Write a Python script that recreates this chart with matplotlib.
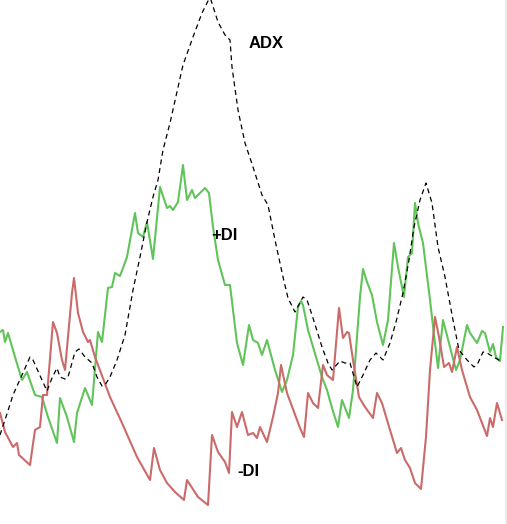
import matplotlib

matplotlib.use("Agg")
import matplotlib.pyplot as plt

# +DI (green): x position, value (screen rows, top = 0)
plus_di_x = [0, 3, 5, 8, 15, 22, 27, 35, 42, 48, 57, 60, 67, 74, 77, 85, 92, 98, 102, 108,
             112, 115, 120, 127, 135, 138, 143, 147, 153, 160, 167, 170, 173, 178, 183, 187,
             192, 195, 205, 209, 213, 218, 225, 230, 237, 243, 249, 253, 258, 262, 267, 275,
             282, 287, 293, 298, 301, 303, 308, 322, 327, 332, 338, 342, 349, 353, 360, 363,
             367, 372, 377, 383, 388, 394, 398, 404, 408, 412, 415, 418, 423, 430, 435, 438,
             443, 450, 456, 460, 467, 470, 477, 482, 485, 490, 493, 496, 500, 503]
plus_di_y = [332, 330, 342, 333, 357, 380, 372, 395, 397, 417, 443, 398, 417, 442, 413, 388,
             405, 332, 342, 288, 287, 273, 276, 257, 213, 233, 237, 222, 259, 187, 208, 206,
             210, 202, 165, 200, 190, 198, 188, 193, 227, 260, 285, 285, 343, 365, 325, 340,
             343, 355, 340, 370, 392, 380, 355, 307, 301, 305, 330, 377, 390, 408, 427, 400,
             418, 390, 297, 269, 282, 295, 322, 345, 320, 243, 267, 297, 257, 253, 203, 223,
             243, 300, 343, 368, 320, 347, 370, 360, 325, 333, 343, 331, 333, 352, 344, 357,
             361, 327]

# -DI (red)
minus_di_x = [0, 5, 13, 17, 19, 30, 35, 40, 43, 47, 53, 57, 62, 65, 72, 74, 78, 83, 88, 90,
              95, 110, 122, 137, 150, 154, 160, 167, 175, 184, 187, 198, 208, 212, 218, 225,
              229, 232, 237, 242, 248, 253, 257, 260, 267, 273, 278, 281, 287, 300, 304, 308,
              313, 318, 323, 327, 333, 339, 343, 347, 349, 353, 359, 365, 373, 377, 382, 390,
              397, 401, 405, 410, 415, 421, 426, 430, 435, 439, 444, 449, 452, 457, 462, 470,
              477, 482, 487, 490, 493, 497, 502]
minus_di_y = [413, 432, 447, 443, 455, 465, 430, 427, 395, 395, 322, 333, 360, 370, 293, 278,
              313, 332, 342, 340, 357, 397, 423, 457, 480, 448, 470, 483, 492, 500, 480, 497,
              505, 435, 452, 462, 473, 412, 427, 412, 435, 433, 438, 427, 442, 417, 393, 365,
              393, 428, 437, 393, 403, 408, 365, 375, 380, 308, 338, 332, 333, 360, 397, 407,
              418, 393, 403, 430, 453, 448, 460, 468, 483, 489, 437, 370, 317, 337, 367, 363,
              372, 347, 370, 397, 410, 423, 436, 418, 427, 403, 420]

# ADX (black dashed)
adx_x = [0, 5, 13, 22, 30, 33, 42, 47, 52, 57, 60, 65, 68, 75, 79, 85, 92, 97, 102, 105, 110,
         117, 125, 133, 140, 147, 153, 158, 163, 170, 183, 193, 202, 210, 218, 225, 230, 232,
         238, 245, 253, 262, 268, 275, 283, 288, 295, 303, 307, 313, 322, 328, 332, 340, 345,
         350, 357, 363, 370, 376, 383, 390, 396, 403, 409, 414, 420, 426, 432, 438, 445, 453,
         459, 467, 474, 478, 483, 487, 497, 502]
adx_y = [435, 420, 395, 375, 357, 360, 380, 391, 378, 368, 377, 379, 377, 352, 349, 357, 363,
         377, 386, 385, 377, 360, 335, 290, 257, 222, 197, 180, 150, 123, 65, 37, 13, -3, 22,
         35, 40, 67, 110, 143, 167, 195, 205, 240, 277, 298, 312, 297, 300, 318, 347, 363, 370,
         361, 363, 363, 387, 375, 360, 353, 360, 343, 322, 293, 260, 227, 200, 183, 203, 247,
         277, 320, 350, 360, 367, 363, 352, 353, 359, 362]

labels = ["ADX", "+DI", "-DI"]
label_pos = [(249, 43), (211, 236), (237, 472)]

fig = plt.figure(figsize=(5.07, 5.24), dpi=100)
ax = fig.add_axes([0, 0, 1, 1])

ax.plot(plus_di_x, plus_di_y, color="#60c45a", linewidth=1.5, solid_joinstyle="round")
ax.plot(minus_di_x, minus_di_y, color="#cb6a6a", linewidth=1.5, solid_joinstyle="round")
ax.plot(adx_x, adx_y, color="black", linewidth=0.9, linestyle=(0, (4, 3)))

for text, (tx, ty) in zip(labels, label_pos):
    ax.text(tx, ty, text, fontsize=12, fontweight="bold", family="Liberation Sans",
            ha="left", va="center", color="black")

# faint border strip on the right edge of the screenshot
ax.axvline(506, color="#ececec", linewidth=2)

ax.set_xlim(0, 507)
ax.set_ylim(524, 0)
ax.axis("off")

fig.savefig("out.png", dpi=100, facecolor="white")
